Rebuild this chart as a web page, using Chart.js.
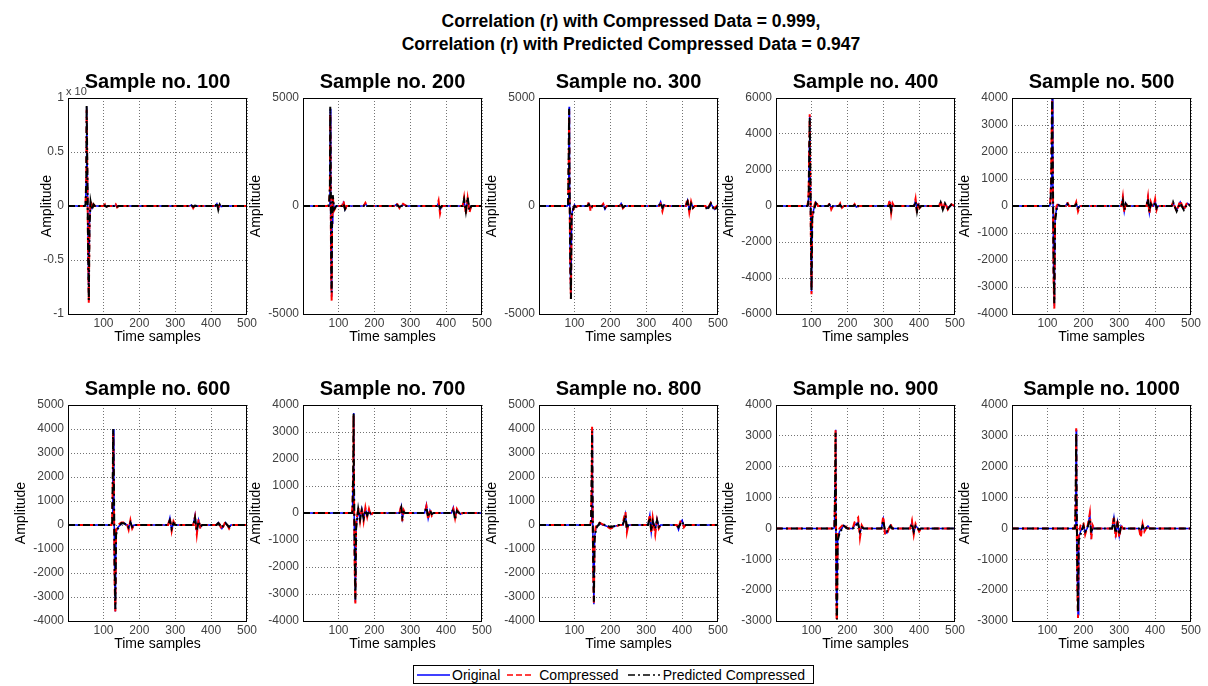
<!DOCTYPE html>
<html>
<head>
<meta charset="utf-8">
<script src="https://cdn.jsdelivr.net/npm/chart.js@4.4.1/dist/chart.umd.min.js"></script>
<style>
  body { margin: 0; background: #fff; width: 1208px; height: 686px; position: relative; overflow: hidden;
         font-family: Arial, "Liberation Sans", sans-serif; }
  canvas { position: absolute; }
  #mainTitle { position: absolute; left: 331px; top: 10px; width: 600px; text-align: center;
               font-weight: bold; font-size: 17.5px; line-height: 23px; color: #000; }
  #legend { position: absolute; left: 413px; top: 665px; width: 401px; height: 19px; border: 1px solid #000;
            display: flex; align-items: center; font-size: 14px; color: #000; background: #fff; padding-left: 3px; box-sizing: border-box; }
</style>
</head>
<body>
<div id="mainTitle">Correlation (r) with Compressed Data = 0.999,<br>Correlation (r) with Predicted Compressed Data = 0.947</div>
<div id="legend">
  <svg width="33" height="10"><line x1="0" y1="5" x2="33" y2="5" stroke="#0000ff" stroke-width="1.5"/></svg>
  <span style="margin-left:2px">Original</span>
  <svg width="27" height="10" style="margin-left:7px"><line x1="0" y1="5" x2="27" y2="5" stroke="#ff0000" stroke-width="1.5" stroke-dasharray="6,3"/></svg>
  <span style="margin-left:5px">Compressed</span>
  <svg width="32" height="10" style="margin-left:9px"><line x1="0" y1="5" x2="32" y2="5" stroke="#000" stroke-width="1.5" stroke-dasharray="7,3,2,3"/></svg>
  <span style="margin-left:3px">Predicted Compressed</span>
</div>

<script>
// subplot settings
const sampleNos = [100, 200, 300, 400, 500, 600, 700, 800, 900, 1000];
const yMins  = [-10000, -5000, -5000, -6000, -4000, -4000, -4000, -4000, -3000, -3000];
const yMaxs  = [ 10000,  5000,  5000,  6000,  4000,  5000,  4000,  5000,  4000,  4000];
const ySteps = [  5000,  5000,  5000,  2000,  1000,  1000,  1000,  1000,  1000,  1000];
const xTicks = [100, 200, 300, 400, 500];

// Sample no. 100
const x100    = [1, 48, 50, 52, 53, 55, 57, 59, 61, 64, 68, 72, 76, 100, 104, 108, 112, 130, 134, 138, 142, 340, 345, 350, 355, 360, 412, 416, 420, 424, 428, 432, 500];
const orig100 = [0, 0, 200, 2500, 9200, 3000, -4000, -8800, -1500, 300, -200, 100, 0, 0, 60, -60, 0, 0, 80, -60, 0, 0, 80, -100, 40, 0, 0, 200, -250, 100, -50, 0, 0];
const comp100 = [0, 0, 300, 2800, 8900, 2600, -4500, -9000, -1200, 500, -300, 150, 0, 0, 150, -150, 0, 0, 150, -120, 0, 0, 150, -200, 80, 0, 0, 150, -150, 120, -80, 0, 0];
const pred100 = [0, 0, 100, 2300, 9300, 3200, -3800, -8700, -1800, 400, -350, 150, 0, 0, 50, -80, 0, 0, 100, -60, 0, 0, 60, -80, 30, 0, 0, 300, -350, 150, -60, 0, 0];

// Sample no. 200
const x200    = [1, 72, 74, 76, 77, 78, 79, 80, 81, 82, 84, 88, 94, 110, 114, 118, 122, 170, 175, 180, 255, 262, 270, 280, 290, 375, 379, 383, 388, 446, 450, 455, 460, 465, 470, 500];
const orig200 = [0, 0, 0, 1000, 4500, 2500, -1500, -3500, -4200, -800, 300, -100, 0, 0, 150, -150, 0, 0, 100, 0, 0, 80, -60, 60, 0, 0, 150, -200, 0, 0, 200, -200, 300, -150, 0, 0];
const comp200 = [0, 0, 100, 800, 4300, 2000, -2000, -3800, -4400, -1000, 400, -200, 0, 0, 250, -200, 0, 0, 150, 0, 0, 150, -100, 100, 0, 0, 250, -350, 0, 0, 400, -400, 350, -300, 0, 0];
const pred200 = [0, 0, 200, 900, 4600, 2800, -1200, -3300, -4000, -600, 500, -150, 0, 0, 100, -150, 0, 0, 80, 0, 0, 50, -40, 40, 0, 0, 80, -100, 0, 0, 300, -250, 400, -200, 0, 0];

// Sample no. 300
const x300    = [1, 80, 82, 84, 85, 86, 88, 90, 92, 96, 100, 104, 108, 136, 140, 145, 150, 176, 180, 185, 190, 226, 230, 235, 240, 335, 340, 345, 350, 355, 410, 415, 420, 425, 430, 435, 465, 470, 480, 490, 500];
const orig300 = [0, 0, 50, 2500, 4600, 1500, -2500, -4200, -400, -100, 50, -50, 0, 0, 100, -100, 0, 0, 80, -150, 0, 0, 120, -80, 0, 0, 200, -100, 50, 0, 0, 250, -200, 150, -50, 0, 0, -100, 100, -150, 0];
const comp300 = [0, 0, 100, 2200, 4400, 1200, -2800, -4300, -300, -200, 50, -100, 0, 0, 200, -250, 0, 0, 100, -100, 0, 0, 150, -100, 0, 0, 100, -250, 80, 0, 0, 350, -300, 200, -100, 0, 0, -150, 150, -100, 50];
const pred300 = [0, 0, 0, 2700, 4500, 1700, -2300, -4300, -500, -150, 0, -30, 0, 0, 80, -80, 0, 0, 50, -100, 0, 0, 100, -60, 0, 0, 150, -80, 40, 0, 0, 200, -250, 100, -80, 0, 0, -200, 120, -200, 0];

// Sample no. 400
const x400    = [1, 88, 90, 92, 94, 95, 97, 99, 100, 102, 106, 112, 118, 146, 150, 155, 160, 176, 180, 185, 190, 216, 220, 225, 230, 314, 318, 322, 326, 330, 386, 390, 394, 398, 402, 406, 456, 460, 466, 472, 480, 490, 500];
const orig400 = [0, 0, 100, 500, 3500, 5000, 1000, -3000, -4800, -600, -200, 200, 0, 0, 100, -100, 0, 0, 80, -60, 0, 0, 60, -60, 0, 0, 200, -200, 100, 0, 0, 300, -200, 100, -50, 0, 0, 200, -150, 100, -100, 50, 0];
const comp400 = [0, 0, 200, 800, 3800, 5100, 800, -3200, -4900, -500, -100, 300, 0, 0, 150, -200, 0, 0, 150, -100, 0, 0, 100, -100, 0, 0, 350, -400, 150, 0, 0, 400, -400, 200, -100, 0, 0, 300, -250, 200, -200, 100, 0];
const pred400 = [0, 0, 50, 400, 3200, 4900, 1200, -2800, -4700, -700, -300, 150, 0, 0, 80, -80, 0, 0, 60, -100, 0, 0, 40, -80, 0, 0, 150, -250, 80, 0, 0, 250, -300, 150, -80, 0, 0, 200, -200, 150, -150, 80, 0];

// Sample no. 500
const x500    = [1, 106, 108, 110, 112, 113, 115, 117, 119, 121, 125, 130, 136, 150, 155, 160, 176, 180, 185, 190, 306, 310, 314, 318, 322, 376, 380, 384, 388, 392, 396, 400, 404, 408, 446, 450, 460, 470, 480, 490, 500];
const orig500 = [0, 0, 100, 800, 3000, 4000, 1000, -2500, -3700, -500, -100, 50, 0, 0, 100, 0, 0, 80, -100, 0, 0, 300, -200, 100, 0, 0, 300, -250, 100, 0, 0, 200, -100, 0, 0, 100, -150, 150, -100, 100, 0];
const comp500 = [0, 0, 200, 1000, 3300, 3900, 600, -2800, -3800, -400, 0, 100, 0, 0, 150, 0, 0, 150, -200, 0, 0, 350, -250, 150, 0, 0, 350, -300, 150, 0, 0, 250, -150, 0, 0, 150, -200, 200, -150, 150, 0];
const pred500 = [0, 0, 0, 700, 2800, 4000, 1200, -2300, -3600, -600, -150, 30, 0, 0, 80, 0, 0, 60, -80, 0, 0, 200, -150, 80, 0, 0, 250, -200, 80, 0, 0, 150, -80, 0, 0, 150, -200, 100, -150, 80, 0];

// Sample no. 600
const x600    = [1, 122, 124, 126, 127, 129, 131, 133, 135, 140, 150, 158, 165, 166, 170, 175, 180, 185, 280, 285, 290, 295, 300, 350, 355, 360, 365, 370, 375, 415, 420, 430, 440, 450, 455, 500];
const orig600 = [0, 0, 100, 2000, 4000, 1500, -2000, -3600, -300, -100, 50, 80, 0, 0, -150, 150, -100, 0, 0, 300, -200, 100, 0, 0, 400, -300, 200, -100, 0, 0, 100, -150, 100, -100, 0, 0];
const comp600 = [0, 0, 200, 1800, 3800, 1200, -2500, -3600, -200, 0, 100, 100, 0, 0, -200, 200, -150, 0, 0, 300, -250, 150, 0, 0, 350, -400, 250, -150, 0, 0, 150, -200, 150, -150, 0, 0];
const pred600 = [0, 0, 0, 2200, 4000, 1800, -1800, -3500, -400, -150, 80, 60, 0, 0, -100, 100, -80, 0, 0, 200, -150, 80, 0, 0, 300, -250, 150, -80, 0, 0, 80, -100, 80, -80, 0, 0];

// Sample no. 700
const x700    = [1, 137, 139, 141, 142, 143, 145, 147, 149, 155, 160, 165, 170, 175, 180, 185, 190, 195, 270, 275, 278, 282, 286, 340, 345, 350, 355, 360, 365, 415, 420, 425, 430, 440, 445, 500];
const orig700 = [0, 0, 100, 1500, 3700, 1200, -1500, -3300, -500, 100, -200, 150, -250, 150, -100, 100, -50, 0, 0, 250, -200, 50, 0, 0, 300, -200, 100, -50, 0, 0, 200, -150, 100, -50, 0, 0];
const comp700 = [0, 0, 200, 1300, 3600, 1000, -2000, -3350, -400, 200, -300, 200, -300, 200, -150, 150, -100, 0, 0, 300, -300, 100, 0, 0, 250, -250, 150, -100, 0, 0, 150, -200, 150, -100, 0, 0];
const pred700 = [0, 0, 0, 1700, 3700, 1400, -1300, -3200, -600, 150, -250, 100, -200, 100, -80, 80, -40, 0, 0, 200, -150, 40, 0, 0, 200, -150, 80, -40, 0, 0, 150, -250, 80, -40, 0, 0];

// Sample no. 800
const x800    = [1, 144, 146, 148, 149, 150, 152, 154, 156, 160, 170, 200, 225, 234, 238, 242, 246, 250, 305, 310, 314, 318, 325, 330, 335, 340, 385, 390, 395, 400, 405, 410, 500];
const orig800 = [0, 0, 100, 2000, 4000, 1500, -1500, -3300, -500, -100, 50, -100, 0, 0, 200, 450, -200, 0, 0, 400, -300, 200, -200, 250, -100, 0, 0, -200, 100, 200, -50, 0, 0];
const comp800 = [0, 0, 200, 1800, 4100, 1300, -2000, -3300, -400, 0, 100, -150, 0, 0, 300, 550, -300, 0, 0, 450, -350, 300, -400, 200, -150, 0, 0, -150, 150, 150, -100, 0, 0];
const pred800 = [0, 0, 0, 2200, 3900, 1700, -1300, -3200, -600, -150, 80, -80, 0, 0, 150, 400, -150, 0, 0, 300, -250, 150, -150, 200, -80, 0, 0, -100, 50, 150, -40, 0, 0];

// Sample no. 900
const x900    = [1, 162, 164, 166, 167, 168, 169, 170, 171, 173, 178, 190, 200, 215, 220, 230, 235, 240, 245, 295, 300, 305, 310, 320, 325, 375, 380, 385, 390, 400, 405, 500];
const orig900 = [0, 0, 50, 1500, 3200, 1000, -1500, -2800, -2900, -300, -100, 100, 0, 0, 100, 200, -150, 50, 0, 0, 300, -100, -150, 100, 0, 0, 200, -150, 100, -50, 0, 0];
const comp900 = [0, 0, 100, 1200, 3200, 800, -2000, -3000, -3000, -200, 0, 150, 0, 0, 200, 350, -300, 100, 0, 0, 400, -200, -200, 150, 0, 0, 250, -200, 150, -100, 0, 0];
const pred900 = [0, 0, 0, 1600, 3100, 1200, -1300, -2700, -2950, -400, -150, 80, 0, 0, 80, 150, -100, 40, 0, 0, 250, -80, -100, 80, 0, 0, 150, -100, 80, -40, 0, 0];

// Sample no. 1000
const x1000    = [1, 175, 177, 179, 180, 181, 183, 185, 187, 192, 200, 205, 210, 213, 218, 222, 226, 230, 280, 285, 290, 295, 300, 305, 310, 355, 360, 365, 370, 380, 385, 500];
const orig1000 = [0, 0, 100, 1500, 3200, 1000, -1500, -2800, -300, -100, 100, -150, 0, 100, 450, -200, 50, 0, 0, 350, -200, 200, -250, 80, 0, 0, -100, 100, -50, 80, 0, 0];
const comp1000 = [0, 0, 200, 1300, 3250, 800, -2000, -2900, -200, 100, 200, -200, 0, 150, 500, -350, 100, 0, 0, 400, -300, 300, -300, 100, 0, 0, -300, 150, -100, 100, 0, 0];
const pred1000 = [0, 0, 0, 1700, 3100, 1200, -1300, -2700, -400, -200, 80, -100, 0, 80, 300, -150, 40, 0, 0, 250, -150, 150, -200, 60, 0, 0, -80, 80, -40, 60, 0, 0];

const xs    = [x100, x200, x300, x400, x500, x600, x700, x800, x900, x1000];
const origs = [orig100, orig200, orig300, orig400, orig500, orig600, orig700, orig800, orig900, orig1000];
const comps = [comp100, comp200, comp300, comp400, comp500, comp600, comp700, comp800, comp900, comp1000];
const preds = [pred100, pred200, pred300, pred400, pred500, pred600, pred700, pred800, pred900, pred1000];

// layout of the 2x5 grid
const plotLefts = [68, 303, 539, 776, 1012];
const rowTops = [98, 405];
const plotW = 179, plotH = 216;
const titleH = 28, xAxisH = 34, rightPad = 14;
const FONT = 'Arial, "Liberation Sans", sans-serif';

const pts = (x, y) => x.map((v, i) => ({ x: v, y: y[i] }));

// draws the full axes box like matlab
const boxPlugin = {
    id: 'box',
    afterDatasetsDraw(chart) {
        const a = chart.chartArea;
        const ctx = chart.ctx;
        ctx.save();
        ctx.strokeStyle = '#000';
        ctx.lineWidth = 1;
        ctx.strokeRect(Math.round(a.left) + 0.5, Math.round(a.top) + 0.5, Math.round(a.right - a.left) - 1, Math.round(a.bottom - a.top));
        ctx.restore();
    }
};

// exponent label for the first subplot
const expPlugin = {
    id: 'exp',
    afterDraw(chart) {
        const a = chart.chartArea;
        const ctx = chart.ctx;
        ctx.save();
        ctx.font = '11px ' + FONT;
        ctx.fillStyle = '#404040';
        ctx.textAlign = 'left';
        ctx.textBaseline = 'bottom';
        ctx.fillText('x 10', a.left - 2, a.top - 1);
        ctx.restore();
    }
};

sampleNos.forEach((n, i) => {
    const col = i % 5, row = Math.floor(i / 5);
    const yw = i === 0 ? 29 : 55;
    const cv = document.createElement('canvas');
    cv.width = yw + plotW + rightPad;
    cv.height = titleH + plotH + xAxisH;
    cv.style.left = (plotLefts[col] - yw) + 'px';
    cv.style.top = (rowTops[row] - titleH) + 'px';
    document.body.appendChild(cv);

    new Chart(cv, {
        type: 'line',
        data: {
            datasets: [{
                    label: 'Original',
                    data: pts(xs[i], origs[i]),
                    borderColor: '#0000ff',
                    borderWidth: 1.5,
                    order: 3
                },
                {
                    label: 'Compressed',
                    data: pts(xs[i], comps[i]),
                    borderColor: '#ff0000',
                    borderWidth: 2,
                    borderDash: [6, 4],
                    order: 2
                },
                {
                    label: 'Predicted Compressed',
                    data: pts(xs[i], preds[i]),
                    borderColor: '#000000',
                    borderWidth: 2,
                    borderDash: [7, 3, 2, 3],
                    order: 1
                }
            ]
        },
        options: {
            responsive: false,
            animation: false,
            devicePixelRatio: 1,
            layout: { padding: { left: 0, right: rightPad, top: 0, bottom: 0 } },
            elements: { point: { radius: 0 }, line: { tension: 0 } },
            plugins: {
                legend: { display: false },
                tooltip: { enabled: false },
                title: {
                    display: true,
                    fullSize: false,
                    text: 'Sample no. ' + n,
                    color: '#000',
                    font: { size: 20, weight: 'bold', family: FONT },
                    padding: { top: 0, bottom: 4 }
                }
            },
            scales: {
                x: {
                    type: 'linear',
                    min: 1,
                    max: 500,
                    afterBuildTicks: s => { s.ticks = xTicks.map(v => ({ value: v })); },
                    afterFit: s => { s.height = xAxisH; },
                    ticks: { color: '#404040', font: { size: 12, family: FONT }, padding: 2, maxRotation: 0, autoSkip: false },
                    grid: { color: 'rgba(0,0,0,0.55)', drawTicks: false },
                    border: { display: false, dash: [1, 2] },
                    title: { display: true, text: 'Time samples', color: '#000', font: { size: 14, family: FONT }, padding: { top: 0, bottom: 2 } }
                },
                y: {
                    min: yMins[i],
                    max: yMaxs[i],
                    afterFit: s => { s.width = yw; },
                    ticks: {
                        stepSize: ySteps[i],
                        color: '#404040',
                        font: { size: 12, family: FONT },
                        padding: 4,
                        callback: v => i === 0 ? String(v / 10000) : String(v)
                    },
                    grid: { color: 'rgba(0,0,0,0.55)', drawTicks: false },
                    border: { display: false, dash: [1, 2] },
                    title: { display: true, text: 'Amplitude', color: '#000', font: { size: 14, family: FONT }, padding: 0 }
                }
            }
        },
        plugins: i === 0 ? [boxPlugin, expPlugin] : [boxPlugin]
    });
});
</script>
</body>
</html>
